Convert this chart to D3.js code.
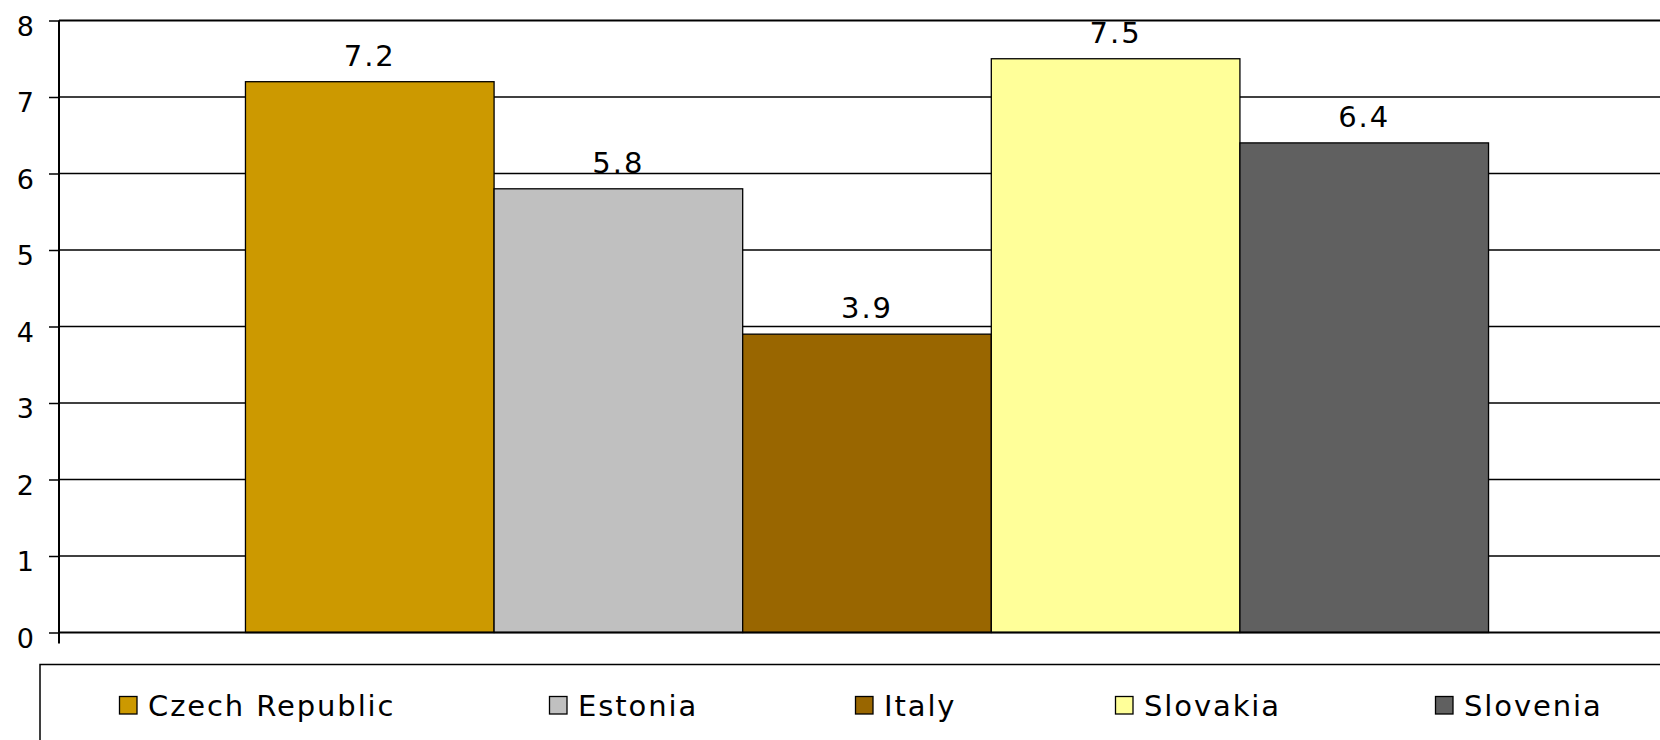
<!DOCTYPE html>
<html>
<head>
<meta charset="utf-8">
<script src="https://cdn.jsdelivr.net/npm/d3@7"></script>
<style>
html,body{margin:0;padding:0;background:#fff;overflow:hidden;}
svg{display:block;}
text{font-family:"DejaVu Sans",Verdana,sans-serif;fill:#000;}
</style>
</head>
<body>
<svg id="chart" width="1660" height="740"></svg>
<script>
const categories = ["2005"];
const seriesNames = ["Czech Republic", "Estonia", "Italy", "Slovakia", "Slovenia"];
const seriesValues = [7.2, 5.8, 3.9, 7.5, 6.4];
const seriesColors = ["#CC9900", "#C0C0C0", "#996600", "#FFFF99", "#606060"];
const yTicks = [0, 1, 2, 3, 4, 5, 6, 7, 8];
const legendX = [119, 549, 855, 1115, 1435];

const svg = d3.select("#chart");
const W = 1660, H = 740;
const plot = {left: 59, right: 1675, top: 20.5, bottom: 632.5};

const y = d3.scaleLinear().domain([0, 8]).range([plot.bottom, plot.top]);

// category band, Excel gap width 150%
const gap = 1.5;
const x0 = d3.scaleBand().domain(categories).range([plot.left, plot.right]).padding(0);
const catW = x0.bandwidth();
const barW = catW / (seriesNames.length + gap);
const x1 = d3.scaleBand().domain(seriesNames)
  .range([barW * gap / 2, barW * gap / 2 + barW * seriesNames.length]).padding(0);

// gridlines
svg.append("g").selectAll("line").data(yTicks.filter(d => d > 0)).join("line")
  .attr("x1", plot.left).attr("x2", W + 20)
  .attr("y1", d => y(d)).attr("y2", d => y(d))
  .attr("stroke", "#000").attr("stroke-width", d => d === 8 ? 2 : 1.3);

// bars
const g = svg.append("g");
categories.forEach(c => {
  g.selectAll("rect.bar").data(seriesNames.map((s, i) => ({s, v: seriesValues[i], c: seriesColors[i]})))
    .join("rect").attr("class", "bar")
    .attr("x", d => x0(c) + x1(d.s))
    .attr("width", x1.bandwidth())
    .attr("y", d => y(d.v))
    .attr("height", d => y(0) - y(d.v))
    .attr("fill", d => d.c)
    .attr("stroke", "#000").attr("stroke-width", 1.3);

  g.selectAll("text.lab").data(seriesNames.map((s, i) => ({s, v: seriesValues[i]})))
    .join("text").attr("class", "lab")
    .attr("x", d => x0(c) + x1(d.s) + x1.bandwidth() / 2)
    .attr("y", d => y(d.v) - 16)
    .attr("text-anchor", "middle")
    .attr("font-size", "29px")
    .attr("letter-spacing", "2px")
    .text(d => d3.format(".1f")(d.v));
});

// y axis
const yAxis = d3.axisLeft(y).tickValues(yTicks).tickSize(10).tickPadding(15).tickFormat(d3.format("d"));
const ya = svg.append("g").attr("transform", `translate(${plot.left},0)`).call(yAxis);
ya.select(".domain").remove();
ya.selectAll(".tick line").attr("stroke", "#000").attr("stroke-width", 1.5);
ya.selectAll(".tick text").attr("font-size", "27px").attr("font-family", '"DejaVu Sans",Verdana,sans-serif')
  .attr("fill", "#000").attr("dy", null).attr("y", 14.5);
svg.append("line").attr("x1", plot.left).attr("x2", plot.left)
  .attr("y1", plot.top).attr("y2", plot.bottom + 11)
  .attr("stroke", "#000").attr("stroke-width", 2);
// x axis baseline
svg.append("line").attr("x1", plot.left).attr("x2", W + 20)
  .attr("y1", plot.bottom).attr("y2", plot.bottom)
  .attr("stroke", "#000").attr("stroke-width", 2);

// legend
svg.append("rect").attr("x", 40).attr("y", 664.5).attr("width", 1700).attr("height", 200)
  .attr("fill", "#fff").attr("stroke", "#000").attr("stroke-width", 1.5);
const lg = svg.append("g").selectAll("g").data(seriesNames).join("g")
  .attr("transform", (d, i) => `translate(${legendX[i]},0)`);
lg.append("rect").attr("x", 0.5).attr("y", 696.5).attr("width", 17.5).attr("height", 17.5)
  .attr("fill", (d, i) => seriesColors[i]).attr("stroke", "#000").attr("stroke-width", 1.3);
lg.append("text").attr("x", 29).attr("y", 716).attr("font-size", "29px")
  .attr("letter-spacing", "1.9px").text(d => d);
</script>
</body>
</html>
